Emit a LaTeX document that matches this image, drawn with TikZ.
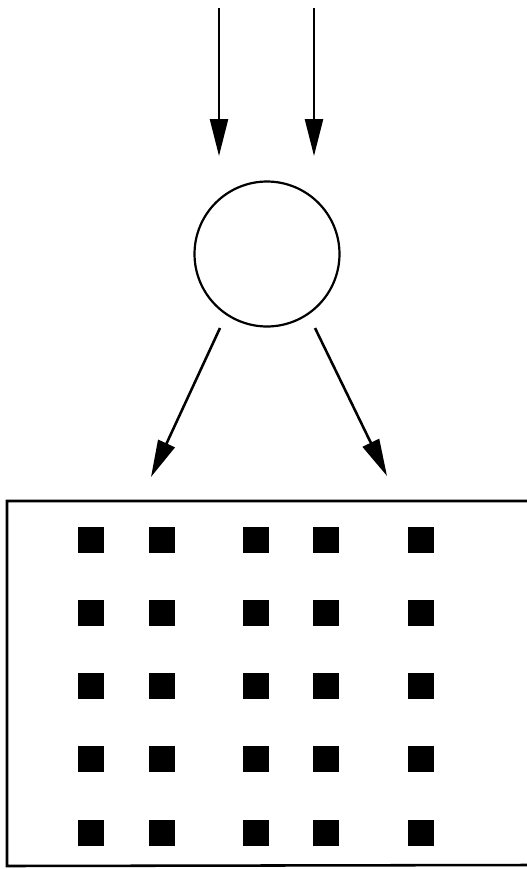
\documentclass[tikz,border=0pt]{standalone}
\usepackage{tikz}
\usetikzlibrary{arrows.meta}

\begin{document}
\begin{tikzpicture}[x=0.02cm, y=-0.02cm,
  flow/.style={line width=1.45pt, -{Triangle[length=7.4mm, width=3.6mm]}},
  cell/.style={fill=black, draw=none, minimum size=0.52cm, inner sep=0pt},
  ball/.style={circle, draw, line width=1.25pt, minimum size=2.9cm, inner sep=0pt}]
\useasboundingbox (0,0) rectangle (527,869);
\node[ball] (src) at (267,254) {};
\coordinate (inA) at (219,8);
\coordinate (inB) at (314,8);
\coordinate (hitA) at (219,156);
\coordinate (hitB) at (314,156);
\coordinate (outA) at (220,328);
\coordinate (outB) at (315,328);
\coordinate (endA) at (151,477);
\coordinate (endB) at (387,476);
\draw[flow] (inA) -- (hitA);
\draw[flow] (inB) -- (hitB);
\draw[flow] (outA) -- (endA);
\draw[flow] (outB) -- (endB);
% target frame, open to the right
\coordinate (frTR) at (527,501);
\coordinate (frTL) at (7,501);
\coordinate (frBL) at (7,866);
\coordinate (frBR) at (527,865);
\draw[line width=1.45pt] (frTR) -- (frTL) -- (frBL) -- (frBR);
\foreach \cx [count=\i] in {91,162,256,326,421}
  \foreach \cy [count=\j] in {540,613,686,759,833}
    \node[cell] (sq-\i-\j) at (\cx,\cy) {};
\end{tikzpicture}
\end{document}
